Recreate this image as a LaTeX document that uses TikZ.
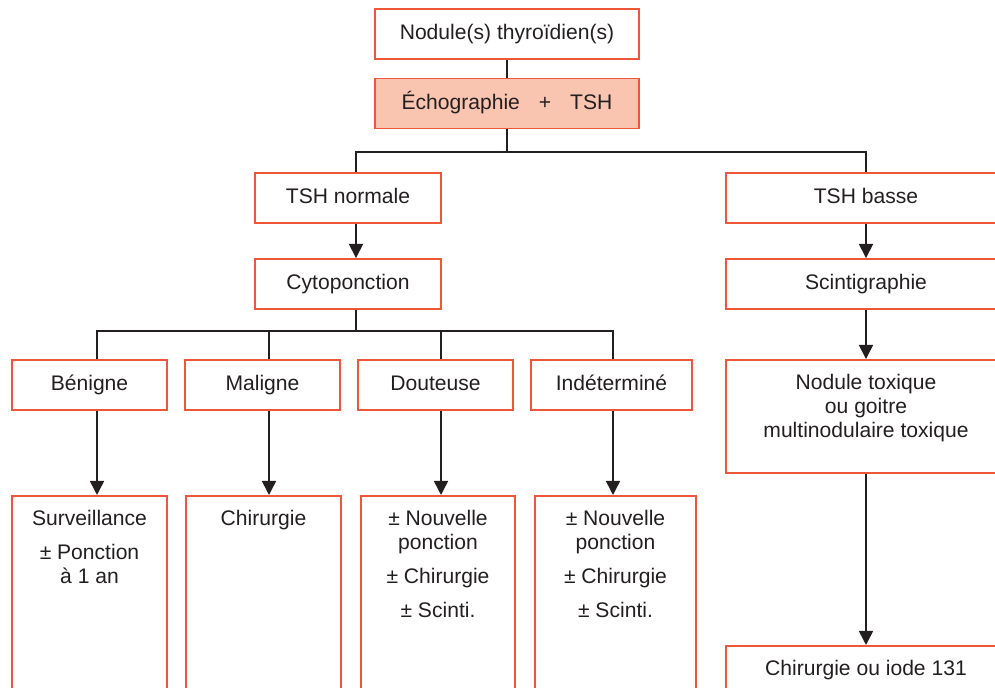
\documentclass[tikz,border=0pt]{standalone}
\usepackage{fontspec}
\setmainfont{Liberation Sans}
\usetikzlibrary{arrows.meta,positioning}
\definecolor{bord}{RGB}{238,86,56}
\definecolor{rose}{RGB}{250,197,176}
\definecolor{encre}{RGB}{35,31,32}

\begin{document}
\begin{tikzpicture}[x=0.02cm,y=-0.02cm,
  boite/.style={draw=bord,line width=1.1pt,inner sep=0pt,minimum height=1cm,
    text height=8.6pt,text depth=2pt,text=encre,font=\fontsize{12}{14}\selectfont},
  texte/.style={align=center,inner sep=0pt,text=encre,font=\fontsize{12}{13.6}\selectfont},
  trait/.style={draw=encre,line width=0.9pt},
  fleche/.style={trait,-{Triangle[width=8pt,length=8pt]}}]
\useasboundingbox (0,0) rectangle (995,688);
\clip (0,0) rectangle (995,688);
% colonnes des traits
\coordinate (colN) at (356,0);
\coordinate (colA) at (97,0);
\coordinate (colB) at (269,0);
\coordinate (colC) at (441,0);
\coordinate (colD) at (613,0);
\coordinate (bus1) at (507,152);
\coordinate (bus2) at (356,331);
% haut
\node[boite,minimum width=5.28cm] (nodule) at (507,34) {Nodule(s) thyroïdien(s)};
\node[boite,minimum width=5.28cm,fill=rose] (echo) at (507,103.5) {Échographie\hspace{0.9em}+\hspace{0.9em}TSH};
\node[boite,minimum width=3.72cm] (tshn) at (348,198) {TSH normale};
\node[boite,minimum width=5.6cm] (tshb) at (866,198) {TSH basse};
\node[boite,minimum width=3.72cm] (cyto) at (348,284) {Cytoponction};
\node[boite,minimum width=5.6cm] (scinti) at (866,284) {Scintigraphie};
% resultats de la cytoponction
\node[boite,minimum width=3.1cm] (benigne) at (89.5,385) {Bénigne};
\node[boite,minimum width=3.1cm] (maligne) at (262.5,385) {Maligne};
\node[boite,minimum width=3.1cm] (douteuse) at (435.5,385) {Douteuse};
\node[boite,minimum width=3.22cm] (indet) at (611.5,385) {Indéterminé};
\node[boite,minimum width=5.6cm,minimum height=2.26cm] (toxique) at (866,416.5) {};
\node[texte,below=0.3cm of toxique.north] {Nodule toxique\\ou goitre\\multinodulaire toxique};
% conduites
\node[boite,anchor=north,minimum width=3.1cm,minimum height=4.4cm] (surv) at (89.5,495) {};
\node[boite,anchor=north,minimum width=3.1cm,minimum height=4.4cm] (chir) at (263.5,495) {};
\node[boite,anchor=north,minimum width=3.08cm,minimum height=4.4cm] (dout2) at (438,495) {};
\node[boite,anchor=north,minimum width=3.22cm,minimum height=4.4cm] (indet2) at (615.5,495) {};
\node[boite,anchor=north,minimum width=5.6cm,minimum height=2cm] (chir131) at (866,645) {};
\node[texte,below=0.3cm of surv.north] {Surveillance\\[0.2cm]± Ponction\\à 1 an};
\node[texte,below=0.3cm of chir.north] {Chirurgie};
\node[texte,below=0.3cm of dout2.north] {± Nouvelle\\ponction\\[0.2cm]± Chirurgie\\[0.2cm]± Scinti.};
\node[texte,below=0.3cm of indet2.north] {± Nouvelle\\ponction\\[0.2cm]± Chirurgie\\[0.2cm]± Scinti.};
\node[texte,below=0.3cm of chir131.north] {Chirurgie ou iode 131};
% traits
\draw[trait] (nodule.south) -- (echo.north);
\draw[trait] (echo.south) -- (bus1);
\draw[trait] (tshn.north -| colN) |- (bus1) -| (tshb.north);
\draw[fleche] (tshn.south -| colN) -- (cyto.north -| colN);
\draw[trait] (cyto.south -| colN) -- (bus2);
\draw[trait] (benigne.north -| colA) |- (bus2) -| (indet.north -| colD);
\draw[trait] (maligne.north -| colB) -- (colB |- bus2);
\draw[trait] (douteuse.north -| colC) -- (colC |- bus2);
\foreach \haut/\bas/\col in {benigne/surv/colA,maligne/chir/colB,douteuse/dout2/colC,indet/indet2/colD}
  \draw[fleche] (\haut.south -| \col) -- (\bas.north -| \col);
\draw[fleche] (tshb.south) -- (scinti.north);
\draw[fleche] (scinti.south) -- (toxique.north);
\draw[fleche] (toxique.south) -- (chir131.north);
\end{tikzpicture}
\end{document}
